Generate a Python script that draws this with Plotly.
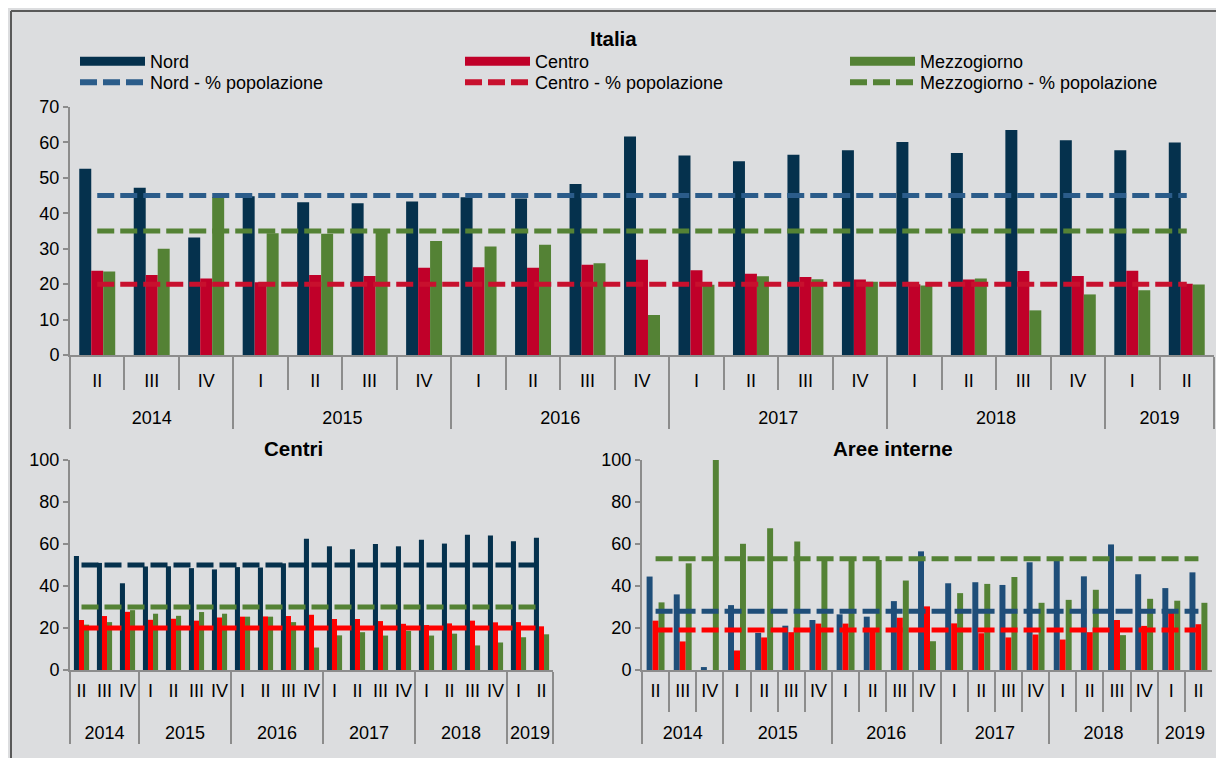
import plotly.graph_objects as go

# ---------------- data ----------------
years = ["2014"] * 3 + ["2015"] * 4 + ["2016"] * 4 + ["2017"] * 4 + ["2018"] * 4 + ["2019"] * 2
quarters = ["II", "III", "IV"] + ["I", "II", "III", "IV"] * 4 + ["I", "II"]

italia_nord = [52.6, 47.2, 33.2, 44.8, 43.1, 42.8, 43.3, 44.5, 44.2, 48.3, 61.7,
               56.3, 54.7, 56.5, 57.8, 60.1, 57.0, 63.5, 60.6, 57.8, 60.0]
italia_centro = [23.8, 22.6, 21.6, 20.5, 22.6, 22.3, 24.6, 24.8, 24.6, 25.5, 26.9,
                 23.9, 22.9, 22.0, 21.3, 20.0, 21.3, 23.7, 22.3, 23.8, 20.1]
italia_mezz = [23.6, 30.0, 44.6, 34.4, 34.2, 35.2, 32.2, 30.6, 31.1, 25.9, 11.3,
               19.8, 22.2, 21.4, 20.7, 19.6, 21.6, 12.6, 17.1, 18.3, 19.9]
italia_pop_nord = 45
italia_pop_centro = 20
italia_pop_mezz = 35

centri_nord = [54.3, 51.0, 41.3, 49.3, 49.4, 48.5, 47.9, 49.0, 48.8, 50.8, 62.5,
               58.9, 57.5, 60.0, 58.9, 62.0, 60.2, 64.4, 64.1, 61.3, 63.0]
centri_centro = [23.8, 25.7, 27.7, 23.9, 24.4, 23.5, 25.0, 25.4, 25.5, 25.7, 26.3,
                 24.3, 24.3, 23.3, 22.0, 21.4, 22.2, 23.5, 22.7, 22.8, 20.8]
centri_mezz = [21.6, 22.8, 28.5, 26.8, 25.8, 27.6, 26.8, 25.4, 25.4, 22.8, 10.7,
               16.5, 18.0, 16.4, 18.6, 16.4, 17.3, 11.7, 13.1, 15.6, 17.0]
centri_pop_nord = 50
centri_pop_centro = 20
centri_pop_mezz = 30

aree_nord = [44.5, 36.0, 1.4, 30.9, 17.7, 21.1, 23.8, 26.5, 25.4, 32.8, 56.5,
             41.3, 41.8, 40.5, 51.3, 52.8, 44.6, 59.8, 45.6, 39.0, 46.5]
aree_centro = [23.5, 13.6, -0.6, 9.3, 15.5, 18.0, 22.1, 22.1, 19.5, 24.9, 30.3,
               22.2, 17.5, 15.5, 16.9, 14.5, 18.0, 23.8, 21.0, 28.4, 21.8]
aree_mezz = [32.2, 50.8, 100.0, 60.1, 67.5, 61.2, 52.5, 52.4, 52.4, 42.6, 13.7,
             36.6, 41.0, 44.3, 32.0, 33.4, 38.2, 16.6, 33.9, 33.0, 32.0]
aree_pop_nord = 28
aree_pop_centro = 19
aree_pop_mezz = 53

# ---------------- styling ----------------
W, H = 1224, 758
OFF = 8  # page body margin in the browser
BG = "#DCDDDF"
AXC = "#8C8C8C"
FONT = "Liberation Sans, Arial, sans-serif"
DASH = "17px,6px"
TF = 18  # tick / legend font size

# Plotly orders multicategory inner labels by first appearance; the 2014 labels
# get an invisible zero-width space so that I, II, III, IV sort correctly later.
first_year = years[0]
quarter_keys = [q + "\u200b" if y == first_year else q for y, q in zip(years, quarters)]
year_keys = ["<br>" + y for y in years]  # second row sits a bit lower
x_cat = [year_keys, quarter_keys]
n = len(quarters)


def px_x(X):
    return (X - OFF) / W


def px_y(Y):
    return 1 - (Y - OFF) / H


fig = go.Figure()


def add_panel(xa, ya, vals, pops, bar_cols, line_cols):
    names = ["Nord", "Centro", "Mezzogiorno"]
    for name, v, c in zip(names, vals, bar_cols):
        fig.add_trace(go.Bar(x=x_cat, y=v, name=name, marker_color=c,
                             marker_line_width=0, xaxis=xa, yaxis=ya,
                             showlegend=False))
    for name, p, c in zip(names, pops, line_cols):
        fig.add_trace(go.Scatter(x=x_cat, y=[p] * n, mode="lines",
                                 name=name + " - % popolazione",
                                 line=dict(color=c, width=5, dash=DASH),
                                 xaxis=xa, yaxis=ya, showlegend=False))


add_panel("x", "y", [italia_nord, italia_centro, italia_mezz],
          [italia_pop_nord, italia_pop_centro, italia_pop_mezz],
          ["#05314D", "#C00029", "#548235"], ["#2B5C8A", "#C8102E", "#548235"])
add_panel("x2", "y2", [centri_nord, centri_centro, centri_mezz],
          [centri_pop_nord, centri_pop_centro, centri_pop_mezz],
          ["#05314D", "#FF0000", "#548235"], ["#05314D", "#FF0000", "#548235"])
add_panel("x3", "y3", [aree_nord, aree_centro, aree_mezz],
          [aree_pop_nord, aree_pop_centro, aree_pop_mezz],
          ["#1F4E79", "#FF0000", "#548235"], ["#1F4E79", "#FF0000", "#548235"])

# legend entries (top panel only), one legend box per entry for exact placement
leg_specs = [
    ("legend", "Nord", "#05314D", 9, None, 75, 43),
    ("legend2", "Centro", "#C00029", 9, None, 460, 43),
    ("legend3", "Mezzogiorno", "#548235", 9, None, 845, 43),
    ("legend4", "Nord - % popolazione", "#2B5C8A", 6, DASH, 75, 64),
    ("legend5", "Centro - % popolazione", "#C8102E", 6, DASH, 460, 64),
    ("legend6", "Mezzogiorno - % popolazione", "#548235", 6, DASH, 845, 64),
]
for lg, name, col, lw, dash, _, _ in leg_specs:
    fig.add_trace(go.Scatter(x=[[year_keys[0]], [quarter_keys[0]]], y=[None], mode="lines",
                             name=name, line=dict(color=col, width=lw, dash=dash),
                             legend=lg, xaxis="x", yaxis="y"))

legend_common = dict(orientation="v", xanchor="left", yanchor="top",
                     bgcolor="rgba(0,0,0,0)", borderwidth=0, itemwidth=65,
                     tracegroupgap=0, font=dict(size=TF, color="#000000", family=FONT),
                     itemclick=False, itemdoubleclick=False)
legends = {lg: dict(legend_common, x=px_x(lx), y=px_y(ly))
           for lg, _, _, _, _, lx, ly in leg_specs}

xaxis_common = dict(type="multicategory", showline=True, linecolor=AXC, linewidth=2,
                    tickson="boundaries", tickcolor=AXC, tickwidth=2, tickangle=0,
                    showdividers=True, dividercolor=AXC, dividerwidth=2,
                    tickfont=dict(size=TF, color="#000000", family=FONT),
                    showgrid=False, zeroline=False)
yaxis_common = dict(showline=True, linecolor=AXC, linewidth=2, ticks="outside",
                    ticklen=5, tickcolor=AXC, tickwidth=2, showgrid=False,
                    zeroline=False, tickfont=dict(size=TF, color="#000000", family=FONT))

title_font = dict(size=20.5, family=FONT, color="#000000")


def title(text, X, Y):
    return dict(text="<b>" + text + "</b>", x=px_x(X), y=px_y(Y), xref="paper", yref="paper",
                showarrow=False, font=title_font, xanchor="center", yanchor="middle")


fig.update_layout(
    width=W, height=H,
    margin=dict(l=0, r=0, t=0, b=0, autoexpand=False),
    paper_bgcolor=BG, plot_bgcolor=BG,
    font=dict(family=FONT, color="#000000"),
    barmode="group", bargap=0.34, bargroupgap=0,
    xaxis=dict(xaxis_common, domain=[px_x(70), px_x(1214)], anchor="y", ticks="outside",
               ticklen=33, ticklabelstandoff=8),
    yaxis=dict(yaxis_common, domain=[px_y(355), px_y(107)], anchor="x", range=[0, 70], dtick=10),
    xaxis2=dict(xaxis_common, domain=[px_x(70), px_x(553)], anchor="y2", ticks="",
                ticklabelstandoff=3),
    yaxis2=dict(yaxis_common, domain=[px_y(670), px_y(460)], anchor="x2", range=[0, 100], dtick=20),
    xaxis3=dict(xaxis_common, domain=[px_x(642), px_x(1212)], anchor="y3", ticks="outside",
                ticklen=40, ticklabelstandoff=3),
    yaxis3=dict(yaxis_common, domain=[px_y(670), px_y(460)], anchor="x3", range=[0, 100], dtick=20),
    annotations=[title("Italia", 613, 38), title("Centri", 293, 448),
                 title("Aree interne", 893, 448)],
    shapes=[
        dict(type="line", xref="paper", yref="paper", x0=px_x(11), x1=1.0,
             y0=px_y(11), y1=px_y(11), line=dict(color="#595959", width=2)),
        dict(type="line", xref="paper", yref="paper", x0=px_x(11), x1=px_x(11),
             y0=px_y(11), y1=0, line=dict(color="#595959", width=2)),
    ],
    **legends,
)

fig.write_html("out.html")
